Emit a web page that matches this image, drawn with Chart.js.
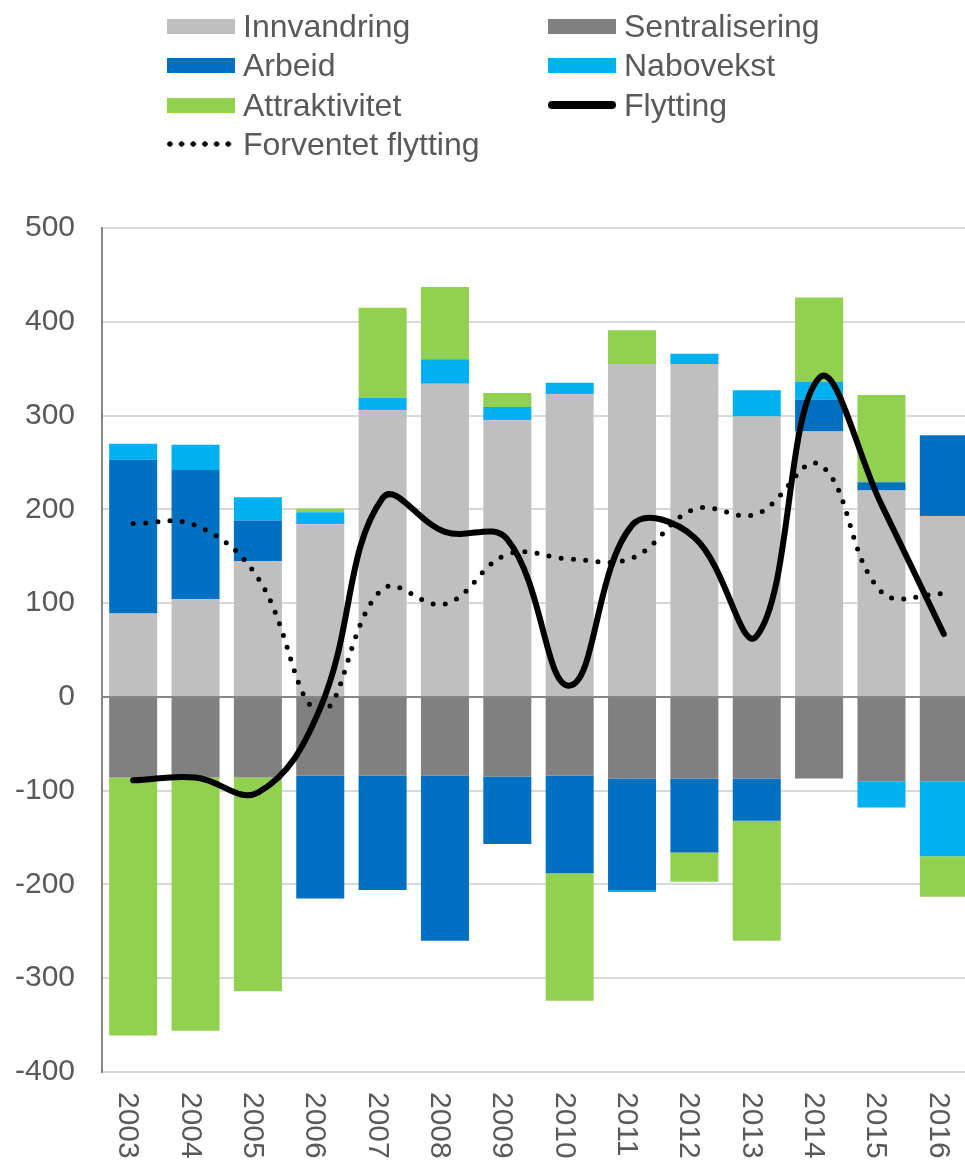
<!DOCTYPE html>
<html>
<head>
<meta charset="utf-8">
<script src="https://cdn.jsdelivr.net/npm/chart.js@4/dist/chart.umd.min.js"></script>
<style>
  body { margin: 0; background: #fff; overflow: hidden; font-family: "Liberation Sans", Arial, sans-serif; }
  #wrap { position: relative; width: 965px; height: 1162px; overflow: hidden; }
  #chart { position: absolute; left: 0; top: 0; }
  .item { position: absolute; height: 40px; display: flex; align-items: center; font-size: 32px; color: #595959; white-space: nowrap; }
  .mark { width: 68px; margin-right: 8px; flex: none; }
</style>
</head>
<body>
<div id="wrap">
  <canvas id="chart" width="975" height="1170"></canvas>
  <div id="legend"></div>
</div>
<script>
// -------- DATA --------
const years = ["2003", "2004", "2005", "2006", "2007", "2008", "2009", "2010", "2011", "2012", "2013", "2014", "2015", "2016"];

const innvandring    = [89, 104, 145, 184, 306, 334, 295, 323, 355, 355, 299, 283, 220, 193];
const sentralisering = [-86, -86, -86, -84, -84, -84, -85, -84, -87, -87, -87, -87, -90, -90];
const arbeid         = [164, 138, 43, -131, -122, -176, -72, -104, -119, -79, -45, 34, 9, 86];
const nabovekst      = [17, 27, 25, 13, 13, 26, 14, 12, -2, 11, 28, 19, -28, -80];
const attraktivitet  = [-275, -270, -228, 4, 96, 77, 15, -136, 36, -31, -128, 90, 93, -43];

const flytting  = [-89, -86, -102, -12, 212, 176, 168, 12, 183, 170, 65, 340, 205, 67];
const forventet = [185, 183, 127, -15, 115, 99, 152, 147, 148, 200, 195, 248, 112, 110];

const yTicks = { min: -400, max: 500, step: 100 };

// -------- HELPERS --------
const FONT = '"Liberation Sans", Arial, sans-serif';
const TEXT_COLOR = "#595959";

function bar(label, data, color) {
    return { type: "bar", label: label, data: data, backgroundColor: color, borderWidth: 0, order: 1 };
}

// years drawn rotated clockwise under the plot
const yearLabels = {
    id: "yearLabels",
    afterDraw(chart) {
        const ctx = chart.ctx;
        const x = chart.scales.x;
        ctx.save();
        ctx.font = "30px " + FONT;
        ctx.fillStyle = TEXT_COLOR;
        ctx.textAlign = "left";
        ctx.textBaseline = "alphabetic";
        years.forEach((y, i) => {
            ctx.save();
            ctx.translate(x.getPixelForValue(i) - 14, 1092);
            ctx.rotate(Math.PI / 2);
            ctx.fillText(y, 0, 0);
            ctx.restore();
        });
        ctx.restore();
    }
};

// -------- CHART --------
const datasets = [
    { type: "line", label: "Flytting", data: flytting, borderColor: "#000", borderWidth: 6,
      tension: 0.4, pointRadius: 0, borderCapStyle: "round", borderJoinStyle: "round", stack: "l1", order: 0 },
    { type: "line", label: "Forventet flytting", data: forventet, borderColor: "#000", borderWidth: 5,
      borderDash: [0, 12.3], borderCapStyle: "round", tension: 0.4, pointRadius: 0, stack: "l2", order: 0 },
    bar("Innvandring", innvandring, "#BFBFBF"),
    bar("Sentralisering", sentralisering, "#808080"),
    bar("Arbeid", arbeid, "#0070C0"),
    bar("Nabovekst", nabovekst, "#00B0F0"),
    bar("Attraktivitet", attraktivitet, "#92D050")
];

new Chart(document.getElementById("chart"), {
    type: "bar",
    data: { labels: years, datasets: datasets },
    options: {
        responsive: false,
        animation: false,
        layout: { padding: { top: 228, left: 0, right: 0, bottom: 0 } },
        plugins: { legend: { display: false }, tooltip: { enabled: false } },
        datasets: { bar: { categoryPercentage: 1, barPercentage: 0.77 } },
        scales: {
            x: {
                stacked: true,
                grid: { display: false },
                border: { display: false },
                ticks: { display: false },
                afterFit: s => { s.height = 98; }
            },
            y: {
                stacked: true,
                min: yTicks.min,
                max: yTicks.max,
                ticks: { stepSize: yTicks.step, color: TEXT_COLOR, padding: 27, font: { size: 30, family: FONT } },
                grid: { color: c => c.tick.value === 0 ? "#868686" : "#D9D9D9", lineWidth: 2, drawTicks: false },
                border: { color: "#868686", width: 2 },
                afterFit: s => { s.width = 102; }
            }
        }
    },
    plugins: [yearLabels]
});

// -------- LEGEND --------
const legendRows = [
    { label: "Innvandring", color: "#BFBFBF", kind: "box", col: 0, row: 0 },
    { label: "Sentralisering", color: "#808080", kind: "box", col: 1, row: 0 },
    { label: "Arbeid", color: "#0070C0", kind: "box", col: 0, row: 1 },
    { label: "Nabovekst", color: "#00B0F0", kind: "box", col: 1, row: 1 },
    { label: "Attraktivitet", color: "#92D050", kind: "box", col: 0, row: 2 },
    { label: "Flytting", color: "#000", kind: "line", col: 1, row: 2 },
    { label: "Forventet flytting", color: "#000", kind: "dots", col: 0, row: 3 }
];
const colX = [167, 548];
const rowY = [26.5, 65.5, 105, 144];

document.getElementById("legend").innerHTML = legendRows.map(it => {
    let mark;
    if (it.kind === "box") {
        mark = `<span class="mark" style="height:15px;background:${it.color}"></span>`;
    } else if (it.kind === "line") {
        mark = `<span class="mark" style="height:8px;border-radius:4px;background:${it.color}"></span>`;
    } else {
        mark = `<span class="mark" style="height:6px;background:radial-gradient(circle, #000 2.4px, transparent 3px) -3px 0 / 11.7px 6px repeat-x"></span>`;
    }
    return `<div class="item" style="left:${colX[it.col]}px;top:${rowY[it.row] - 20}px">${mark}<span>${it.label}</span></div>`;
}).join("");
</script>
</body>
</html>
